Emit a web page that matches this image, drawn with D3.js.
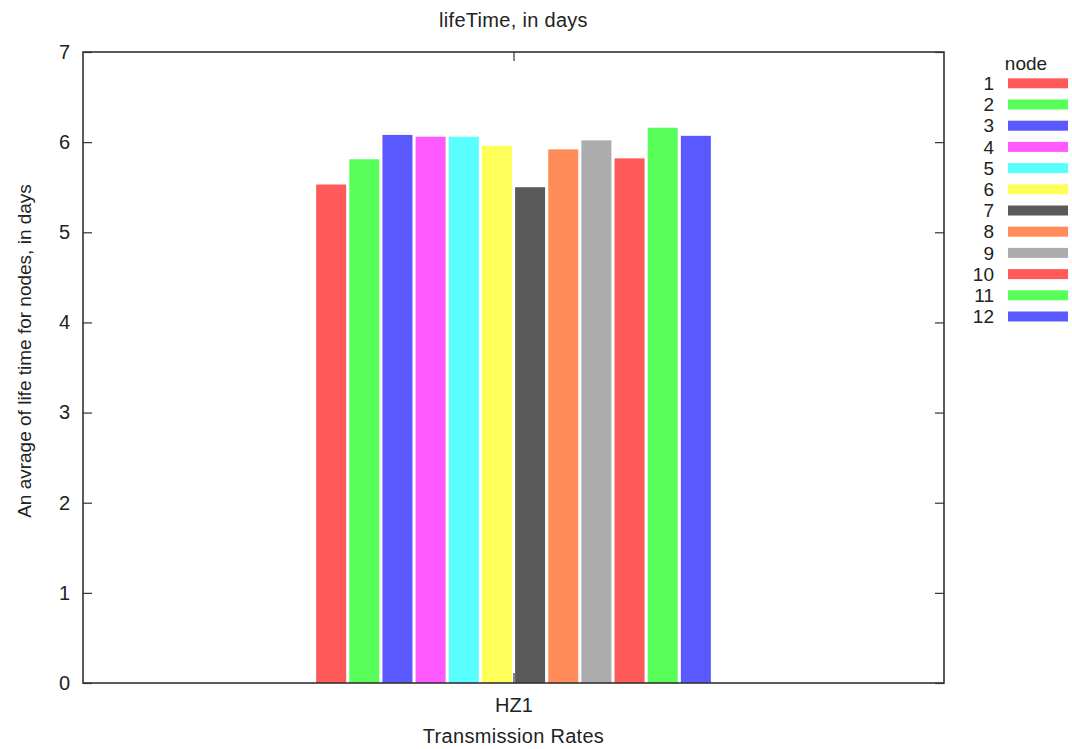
<!DOCTYPE html>
<html>
<head>
<meta charset="utf-8">
<script src="https://cdn.jsdelivr.net/npm/d3@7"></script>
<style>
  body { margin: 0; background: #fff; }
  text { font-family: "Liberation Sans", Arial, sans-serif; fill: #222; }
</style>
</head>
<body>
<div id="main"></div>
<script>
// data
var categories = ["HZ1"];
var nodes = ["1", "2", "3", "4", "5", "6", "7", "8", "9", "10", "11", "12"];
var lifeTime = [5.53, 5.81, 6.08, 6.06, 6.06, 5.96, 5.50, 5.92, 6.02, 5.82, 6.16, 6.07];
var yTicks = [0, 1, 2, 3, 4, 5, 6, 7];
var colors = ["#ff5959", "#59ff59", "#5959ff", "#ff59ff", "#59ffff", "#ffff59",
              "#5a5a5a", "#ff8c59", "#acacac", "#ff5959", "#59ff59", "#5959ff"];

// margin
var margin = {top: 52, right: 128, bottom: 66, left: 83},
    width = 1072 - margin.left - margin.right,
    height = 749 - margin.top - margin.bottom;

var svg = d3.select("#main").append("svg")
    .attr("width", 1072)
    .attr("height", 749);

var g = svg.append("g")
    .attr("transform", "translate(" + margin.left + "," + margin.top + ")");

// scales
var x0 = d3.scaleBand()
    .domain(categories)
    .range([0, width])
    .paddingInner(0)
    .paddingOuter(0.582);

var x1 = d3.scaleBand()
    .domain(nodes)
    .range([0, x0.bandwidth()])
    .paddingInner(0.095)
    .paddingOuter(0.0475);

var y = d3.scaleLinear()
    .domain([0, 7])
    .range([height, 0]);

var color = d3.scaleOrdinal().domain(nodes).range(colors);

// bars
var cluster = g.selectAll(".cluster")
    .data(categories)
    .enter().append("g")
    .attr("class", "cluster")
    .attr("transform", function(d) { return "translate(" + x0(d) + ",0)"; });

cluster.selectAll("rect")
    .data(nodes.map(function(n, i) { return {key: n, value: lifeTime[i]}; }))
    .enter().append("rect")
    .attr("x", function(d) { return x1(d.key); })
    .attr("width", x1.bandwidth())
    .attr("y", function(d) { return y(d.value); })
    .attr("height", function(d) { return height - y(d.value); })
    .style("fill", function(d) { return color(d.key); });

// axes, ticks point inward like gnuplot
function styleAxis(sel) {
    sel.select(".domain").remove();
    sel.selectAll(".tick line").attr("stroke", "#333").attr("stroke-width", 1.2);
    sel.selectAll(".tick text").style("font-size", "20px").attr("fill", "#222");
}

g.append("g")
    .call(d3.axisLeft(y).tickValues(yTicks).tickFormat(d3.format("d"))
        .tickSizeInner(-9).tickSizeOuter(0).tickPadding(13))
    .call(styleAxis);

g.append("g")
    .attr("transform", "translate(" + width + ",0)")
    .call(d3.axisRight(y).tickValues(yTicks).tickFormat("")
        .tickSizeInner(-9).tickSizeOuter(0))
    .call(styleAxis);

var xCenter = d3.scalePoint().domain(categories).range([0, width]).padding(0.5);

g.append("g")
    .attr("transform", "translate(0," + height + ")")
    .call(d3.axisBottom(xCenter).tickSizeInner(-10).tickSizeOuter(0).tickPadding(15))
    .call(styleAxis);

g.append("g")
    .call(d3.axisTop(xCenter).tickSizeInner(-9).tickSizeOuter(0).tickFormat(""))
    .call(styleAxis);

// frame
g.append("rect")
    .attr("width", width)
    .attr("height", height)
    .attr("fill", "none")
    .attr("stroke", "#333")
    .attr("stroke-width", 1.6);

// title and axis labels
svg.append("text")
    .attr("x", margin.left + width / 2)
    .attr("y", 27)
    .attr("text-anchor", "middle")
    .style("font-size", "20px")
    .style("letter-spacing", "0.3px")
    .text("lifeTime, in days");

svg.append("text")
    .attr("x", margin.left + width / 2)
    .attr("y", 743)
    .attr("text-anchor", "middle")
    .style("font-size", "20px")
    .style("letter-spacing", "0.3px")
    .text("Transmission Rates");

svg.append("text")
    .attr("transform", "translate(31," + 351 + ") rotate(-90)")
    .attr("text-anchor", "middle")
    .style("font-size", "19px")
    .text("An avrage of life time for nodes, in days");

// legend
var legend = svg.append("g");

legend.append("text")
    .attr("x", 1026)
    .attr("y", 63)
    .attr("dy", "0.35em")
    .attr("text-anchor", "middle")
    .style("font-size", "19px")
    .text("node");

var rows = legend.selectAll(".row")
    .data(nodes)
    .enter().append("g")
    .attr("class", "row")
    .attr("transform", function(d, i) { return "translate(0," + (83.3 + i * 21.2) + ")"; });

rows.append("text")
    .attr("x", 994)
    .attr("dy", "0.35em")
    .attr("text-anchor", "end")
    .style("font-size", "19px")
    .text(function(d) { return d; });

rows.append("rect")
    .attr("x", 1008)
    .attr("y", -5)
    .attr("width", 60)
    .attr("height", 10)
    .style("fill", function(d) { return color(d); });
</script>
</body>
</html>
